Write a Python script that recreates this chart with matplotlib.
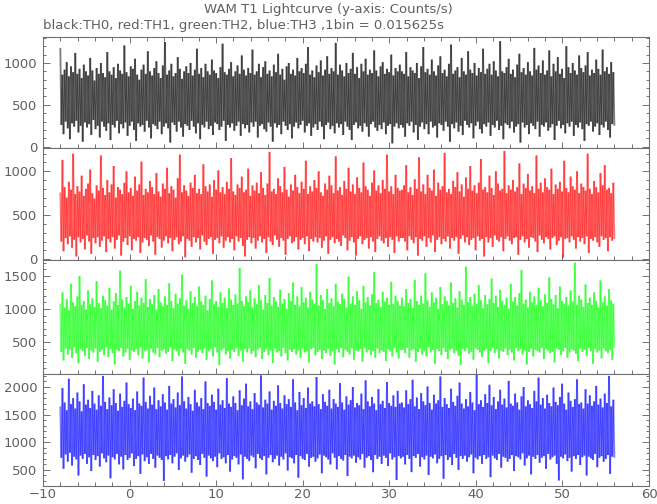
import numpy as np
import matplotlib
matplotlib.use("Agg")
import matplotlib.pyplot as plt
from matplotlib.ticker import MultipleLocator
from matplotlib.collections import LineCollection

# time range covered by the lightcurve (s)
t_start, t_end = -8.0, 56.0

# per-column upper / lower envelope of each channel (counts/s)
th0_hi = [1180, 860, 920, 1010, 840, 960, 890, 1120, 870, 930,
          820, 980, 900, 850, 1060, 910, 790, 940, 870, 1000,
          880, 830, 1130, 900, 860, 950, 820, 990, 910, 870,
          1210, 890, 840, 960, 930, 1050, 860, 800, 920, 980,
          870, 1140, 900, 850, 940, 1020, 880, 820, 970, 1250,
          860, 910, 990, 840, 880, 1070, 930, 810, 900, 960,
          880, 1000, 850, 920, 1170, 870, 940, 830, 990, 900,
          860, 1040, 910, 880, 820, 950, 1230, 890, 860, 930,
          1010, 840, 900, 970, 870, 1090, 920, 850, 940, 880,
          1160, 860, 900, 990, 830, 950, 1020, 870, 910, 840,
          980, 890, 1110, 860, 930, 800, 960, 1000, 870, 920,
          850, 1060, 900, 940, 880, 990, 1190, 860, 910, 830,
          970, 890, 1030, 850, 920, 1080, 870, 940, 900, 1240,
          860, 980, 910, 840, 1000, 880, 930, 1120, 870, 950,
          820, 990, 900, 1050, 860, 920, 880, 1150, 910, 840,
          960, 1010, 870, 930, 890, 1100, 850, 940, 900, 980,
          900, 870, 1130, 840, 950, 910, 880, 1000, 820, 960,
          1190, 890, 930, 860, 1040, 900, 850, 970, 1080, 880,
          920, 840, 990, 1220, 870, 910, 950, 830, 1060, 900,
          860, 1140, 920, 880, 1000, 850, 940, 890, 1170, 870,
          930, 990, 860, 1020, 910, 840, 1260, 900, 880, 950,
          1050, 870, 920, 830, 980, 1110, 890, 940, 860, 1010,
          900, 850, 1180, 920, 970, 880, 1030, 860, 910, 1150,
          840, 990, 900, 1070, 870, 930, 820, 1200, 950, 880,
          1000, 910, 860, 1090, 940, 890, 970, 1130, 850, 920,
          880, 1040, 930, 860, 1160, 900, 950, 870, 1010, 890]
th0_lo = [260, 150, 300, 220, 90, 280, 240, 310, 170, 250,
          60, 290, 230, 270, 140, 320, 210, 250, 110, 300,
          240, 190, 280, 80, 260, 230, 310, 160, 270, 220,
          290, 130, 250, 300, 200, 70, 280, 240, 260, 180,
          310, 230, 100, 270, 250, 210, 300, 150, 240, 280,
          220, 50, 290, 260, 180, 300, 230, 120, 270, 250,
          200, 310, 240, 160, 280, 90, 260, 230, 300, 210,
          250, 140, 290, 270, 200, 240, 310, 70, 260, 230,
          280, 190, 250, 300, 130, 270, 220, 260, 170, 290,
          240, 300, 110, 250, 270, 210, 180, 290, 240, 60,
          280, 230, 260, 150, 300, 250, 200, 270, 100, 240,
          290, 220, 260, 310, 170, 250, 280, 130, 230, 270,
          200, 300, 240, 90, 260, 290, 210, 250, 160, 280,
          230, 270, 140, 300, 240, 200, 80, 260, 290, 220,
          250, 180, 280, 240, 120, 270, 300, 230, 190, 260,
          210, 290, 150, 250, 270, 40, 240, 280, 220, 260,
          230, 120, 280, 250, 300, 170, 260, 80, 240, 290,
          210, 270, 150, 300, 230, 250, 110, 280, 260, 190,
          300, 240, 60, 270, 220, 290, 180, 250, 140, 310,
          260, 230, 280, 100, 250, 300, 210, 160, 270, 240,
          290, 130, 260, 230, 310, 200, 250, 90, 280, 260,
          220, 300, 170, 240, 270, 50, 290, 230, 260, 150,
          280, 250, 210, 300, 120, 260, 240, 290, 190, 230,
          270, 80, 250, 310, 220, 260, 160, 280, 240, 300,
          130, 260, 230, 290, 210, 70, 270, 250, 300, 180,
          240, 280, 140, 260, 230, 300, 200, 110, 270, 250]

th1_hi = [760, 1130, 820, 700, 880, 790, 1200, 740, 830, 770,
          950, 720, 800, 860, 1020, 750, 690, 840, 780, 1180,
          810, 730, 900, 760, 850, 1060, 700, 820, 790, 740,
          870, 1000, 760, 810, 720, 940, 780, 850, 1110, 730,
          800, 760, 890, 820, 740, 980, 770, 710, 860, 800,
          1040, 750, 830, 790, 700, 920, 1190, 760, 840, 780,
          720, 870, 810, 960, 750, 800, 740, 1080, 830, 770,
          850, 710, 900, 790, 1010, 760, 820, 740, 880, 800,
          1150, 770, 730, 850, 810, 940, 760, 790, 1030, 720,
          840, 780, 870, 750, 990, 810, 730, 860, 1220, 770,
          800, 740, 920, 830, 760, 1050, 790, 710, 850, 780,
          960, 820, 750, 880, 800, 1120, 740, 830, 770, 900,
          810, 1000, 760, 720, 860, 790, 950, 840, 750, 1170,
          780, 820, 730, 890, 800, 1040, 770, 850, 740, 930,
          810, 760, 1100, 830, 790, 720, 870, 1010, 780, 840,
          750, 900, 800, 1190, 770, 830, 740, 960, 810, 780,
          790, 840, 1070, 760, 820, 730, 910, 800, 1160, 770,
          850, 740, 960, 810, 780, 1020, 720, 870, 790, 830,
          1210, 760, 800, 740, 890, 820, 990, 770, 850, 710,
          930, 800, 1060, 780, 840, 750, 870, 1140, 790, 820,
          760, 950, 810, 730, 1000, 860, 780, 800, 1230, 750,
          840, 790, 900, 770, 820, 1090, 740, 860, 810, 970,
          780, 830, 750, 1180, 800, 870, 760, 920, 820, 790,
          1030, 740, 850, 800, 880, 770, 1120, 810, 760, 940,
          830, 790, 1000, 750, 860, 820, 780, 1200, 800, 740,
          890, 820, 760, 980, 840, 1070, 790, 810, 750, 870]
th1_lo = [200, 90, 240, 170, 260, 130, 220, 30, 250, 190,
          230, 110, 270, 200, 60, 240, 180, 250, 140, 210,
          260, 80, 230, 190, 250, 120, 220, 270, 40, 200,
          240, 160, 260, 100, 230, 210, 250, 70, 190, 240,
          220, 150, 270, 200, 50, 250, 230, 130, 210, 260,
          180, 240, 90, 220, 250, 170, 200, 260, 20, 230,
          210, 140, 250, 190, 240, 110, 270, 200, 160, 230,
          250, 60, 220, 240, 180, 260, 130, 210, 250, 190,
          230, 100, 260, 200, 240, 150, 30, 220, 250, 180,
          240, 120, 210, 260, 190, 230, 70, 250, 200, 160,
          270, 220, 140, 240, 210, 50, 230, 260, 180, 200,
          250, 110, 220, 240, 170, 260, 90, 230, 200, 250,
          190, 240, 130, 210, 260, 60, 220, 250, 180, 230,
          200, 150, 270, 240, 100, 210, 250, 190, 40, 230,
          260, 170, 220, 240, 120, 250, 200, 80, 230, 260,
          210, 180, 240, 140, 250, 220, 70, 260, 200, 240,
          240, 200, 100, 260, 220, 180, 250, 40, 230, 210,
          260, 140, 240, 190, 270, 80, 220, 250, 170, 230,
          200, 260, 120, 240, 210, 250, 60, 230, 270, 190,
          250, 160, 220, 240, 100, 260, 210, 230, 30, 250,
          190, 240, 140, 270, 220, 200, 250, 90, 230, 260,
          210, 170, 240, 250, 50, 220, 260, 190, 230, 130,
          250, 240, 200, 80, 270, 220, 180, 250, 230, 110,
          240, 260, 160, 210, 250, 20, 230, 240, 190, 260,
          220, 120, 250, 200, 240, 170, 260, 70, 230, 210,
          250, 190, 140, 260, 220, 240, 90, 250, 210, 230]

th2_hi = [1080, 1250, 1020, 1150, 980, 1380, 1100, 1040, 1190, 1500,
          1060, 1120, 990, 1280, 1070, 1160, 1030, 1420, 1090, 1010,
          1200, 1130, 1050, 1320, 990, 1110, 1240, 1060, 1580, 1140,
          1020, 1180, 1080, 1350, 1000, 1120, 1260, 1050, 1170, 1090,
          1450, 1030, 1150, 1070, 1210, 990, 1300, 1100, 1040, 1190,
          1060, 1390, 1120, 1010, 1230, 1080, 1160, 1520, 1050, 1130,
          1000, 1270, 1090, 1180, 1040, 1340, 1110, 1060, 1200, 980,
          1150, 1430, 1070, 1120, 1030, 1250, 1090, 1170, 1010, 1310,
          1140, 1060, 1220, 1080, 1620, 1120, 1040, 1190, 1100, 1280,
          1020, 1160, 1070, 1360, 1130, 990, 1210, 1090, 1470, 1050,
          1180, 1110, 1030, 1290, 1080, 1150, 1000, 1240, 1120, 1400,
          1060, 1190, 1040, 1330, 1100, 1170, 1020, 1260, 1140, 1080,
          1680, 1050, 1210, 1130, 1000, 1300, 1090, 1160, 1040, 1380,
          1110, 1070, 1230, 1150, 1020, 1490, 1080, 1190, 1060, 1270,
          1130, 1000, 1350, 1100, 1180, 1050, 1220, 1560, 1090, 1140,
          1030, 1260, 1110, 1170, 1060, 1410, 1080, 1200, 1120, 1050,
          1170, 1040, 1300, 1090, 1150, 1010, 1440, 1120, 1060, 1200,
          1080, 1540, 1130, 1030, 1250, 1100, 1170, 1000, 1330, 1070,
          1190, 1120, 1050, 1400, 1090, 1160, 1020, 1270, 1140, 1060,
          1640, 1100, 1180, 1040, 1230, 1080, 1360, 1130, 1010, 1210,
          1070, 1150, 1460, 1090, 1200, 1030, 1290, 1120, 1060, 1170,
          1000, 1380, 1110, 1180, 1050, 1240, 1590, 1080, 1140, 1020,
          1260, 1100, 1190, 1060, 1320, 1130, 1040, 1220, 1090, 1480,
          1150, 1070, 1210, 1010, 1340, 1120, 1080, 1180, 1050, 1280,
          1110, 1700, 1060, 1200, 1140, 1030, 1370, 1090, 1170, 1060,
          1250, 1120, 1020, 1430, 1100, 1190, 1050, 1300, 1130, 1080]
th2_lo = [350, 220, 400, 310, 380, 260, 420, 330, 180, 390,
          360, 290, 410, 240, 370, 340, 400, 200, 350, 380,
          300, 420, 270, 390, 330, 160, 380, 360, 410, 280,
          340, 400, 230, 370, 350, 390, 300, 420, 250, 360,
          380, 190, 400, 340, 310, 410, 270, 370, 390, 320,
          350, 420, 210, 380, 360, 290, 400, 340, 170, 390,
          370, 310, 410, 260, 350, 380, 330, 400, 230, 360,
          390, 280, 420, 340, 150, 370, 400, 310, 360, 250,
          380, 350, 410, 290, 370, 200, 390, 340, 400, 320,
          360, 270, 380, 410, 240, 350, 390, 300, 370, 180,
          400, 340, 360, 280, 410, 330, 220, 380, 350, 390,
          310, 370, 260, 400, 340, 360, 190, 390, 410, 300,
          350, 380, 240, 370, 330, 400, 290, 360, 160, 390,
          340, 410, 270, 380, 350, 310, 400, 230, 370, 360,
          390, 200, 410, 340, 380, 300, 360, 260, 400, 330,
          370, 350, 210, 390, 360, 280, 410, 340, 250, 380,
          380, 330, 410, 260, 370, 390, 200, 350, 400, 310,
          360, 280, 420, 340, 380, 170, 390, 360, 300, 410,
          350, 240, 380, 400, 330, 370, 290, 150, 390, 360,
          410, 320, 350, 230, 400, 380, 340, 270, 370, 390,
          180, 360, 410, 330, 390, 250, 370, 350, 400, 300,
          380, 340, 220, 410, 360, 390, 310, 370, 160, 350,
          400, 280, 380, 360, 340, 410, 240, 390, 370, 330,
          350, 190, 400, 380, 300, 360, 410, 260, 340, 390,
          370, 320, 210, 400, 350, 380, 290, 410, 360, 170,
          390, 340, 370, 250, 400, 360, 330, 380, 230, 410]

th3_hi = [1650, 1980, 1720, 1580, 2150, 1690, 1800, 1610, 1900, 1740,
          1560, 2050, 1680, 1770, 1620, 1930, 1700, 1590, 1850, 1660,
          2200, 1730, 1600, 1810, 1670, 1960, 1710, 1570, 1880, 1640,
          1750, 2080, 1690, 1620, 1790, 1580, 1920, 1700, 1660, 2170,
          1730, 1610, 1840, 1680, 1990, 1600, 1760, 1650, 1870, 1720,
          1590, 2020, 1700, 1780, 1630, 1900, 1670, 2190, 1740, 1610,
          1820, 1690, 1570, 1950, 1720, 1650, 1800, 1600, 2100, 1710,
          1660, 1860, 1730, 1590, 1970, 1680, 1760, 1620, 2160, 1700,
          1640, 1830, 1710, 1580, 1940, 1670, 1790, 2060, 1650, 1740,
          1600, 1890, 1720, 1680, 2210, 1630, 1770, 1700, 1920, 1590,
          1750, 1660, 2030, 1710, 1610, 1850, 1690, 1780, 1640, 2140,
          1720, 1580, 1910, 1670, 1800, 1620, 1990, 1700, 1740, 1650,
          2180, 1690, 1600, 1870, 1730, 1660, 1950, 1610, 1780, 1700,
          1640, 2070, 1720, 1590, 1830, 1680, 1760, 2000, 1630, 1710,
          1670, 1880, 1600, 2120, 1740, 1650, 1820, 1700, 1580, 1960,
          1690, 1750, 1620, 2090, 1710, 1660, 1850, 1640, 1930, 1700,
          1720, 1630, 1940, 1690, 1780, 2130, 1650, 1810, 1600, 1890,
          1740, 1670, 2010, 1710, 1590, 1860, 1700, 1760, 2190, 1640,
          1800, 1690, 1620, 1970, 1730, 1660, 1840, 2080, 1700, 1610,
          1780, 1650, 1910, 1720, 1580, 2230, 1690, 1760, 1640, 1870,
          1710, 2040, 1670, 1820, 1600, 1740, 1950, 1680, 1790, 1630,
          2110, 1700, 1660, 1880, 1720, 1590, 1830, 2000, 1650, 1760,
          1690, 1620, 1930, 1740, 2170, 1680, 1800, 1610, 1860, 1710,
          1650, 1990, 1730, 1670, 1820, 2060, 1700, 1590, 1900, 1750,
          1640, 1780, 2140, 1690, 1720, 1610, 1960, 1700, 1850, 1660,
          1740, 2020, 1680, 1790, 1630, 1880, 1710, 2200, 1650, 1770]
th3_lo = [720, 520, 780, 650, 810, 580, 740, 690, 400, 760,
          700, 790, 610, 730, 480, 770, 680, 750, 560, 800,
          710, 640, 760, 350, 730, 690, 790, 600, 740, 510,
          770, 680, 720, 800, 570, 700, 750, 430, 780, 660,
          730, 610, 790, 700, 540, 760, 720, 680, 300, 750,
          690, 770, 620, 740, 800, 500, 710, 760, 650, 730,
          780, 450, 700, 750, 680, 590, 790, 720, 380, 760,
          710, 660, 740, 550, 800, 700, 730, 620, 770, 470,
          690, 750, 720, 600, 780, 330, 740, 700, 660, 760,
          730, 530, 790, 710, 680, 750, 420, 720, 770, 640,
          700, 760, 580, 740, 690, 800, 490, 730, 710, 620,
          770, 360, 750, 700, 680, 790, 560, 720, 740, 650,
          710, 780, 440, 760, 730, 690, 600, 800, 720, 510,
          750, 700, 670, 770, 390, 740, 710, 760, 630, 730,
          690, 790, 540, 720, 750, 680, 460, 770, 700, 740,
          610, 760, 720, 570, 800, 690, 730, 320, 750, 710,
          740, 600, 770, 700, 460, 750, 720, 790, 560, 730,
          690, 760, 410, 740, 710, 780, 620, 700, 750, 340,
          770, 680, 730, 590, 790, 720, 500, 750, 700, 760,
          650, 730, 780, 440, 720, 690, 750, 610, 770, 700,
          730, 370, 760, 710, 680, 790, 540, 740, 720, 650,
          700, 770, 480, 750, 730, 690, 800, 580, 710, 760,
          420, 740, 700, 770, 630, 720, 750, 520, 790, 690,
          730, 760, 610, 310, 740, 710, 780, 660, 720, 470,
          750, 700, 770, 590, 730, 760, 400, 740, 710, 680,
          790, 550, 720, 750, 650, 700, 770, 430, 740, 720]

colors = ["black", "red", "#00ff00", "blue"]
ylims = [(-15, 1310), (-10, 1265), (15, 1740), (210, 2235)]
# panel top/bottom in pixels
panel_px = [(37, 148), (148, 260), (260, 374), (374, 486)]

W, H = 657, 504
frame = "#707070"
txt = "#606060"

fig = plt.figure(figsize=(W / 100, H / 100), dpi=100)
fig.text(0.5, 1 - 9 / H, "WAM T1 Lightcurve (y-axis: Counts/s)",
         ha="center", va="center", fontsize=9.5, color=txt)
fig.text(43 / W, 1 - 25 / H, "black:TH0, red:TH1, green:TH2, blue:TH3 ,1bin = 0.015625s",
         ha="left", va="center", fontsize=9.5, color=txt)

data = [(th0_hi, th0_lo), (th1_hi, th1_lo), (th2_hi, th2_lo), (th3_hi, th3_lo)]
left, right = 43, 649
for i, ((hi, lo), c, yl, (top, bot)) in enumerate(zip(data, colors, ylims, panel_px)):
    ax = fig.add_axes([left / W, 1 - bot / H, (right - left) / W, (bot - top) / H])
    y = np.column_stack([hi, lo]).ravel()
    t = np.linspace(t_start, t_end, len(y))
    pts = np.column_stack([t, y])
    # each step of the curve as its own segment so overlaps darken the core
    segs = np.stack([pts[:-1], pts[1:]], axis=1)
    ax.add_collection(LineCollection(segs, colors=c, linewidths=1.35, alpha=0.5))
    ax.set_xlim(-10, 60)
    ax.set_ylim(*yl)
    ax.xaxis.set_major_locator(MultipleLocator(10))
    ax.xaxis.set_minor_locator(MultipleLocator(2))
    ax.yaxis.set_major_locator(MultipleLocator(500))
    ax.yaxis.set_minor_locator(MultipleLocator(100))
    for s in ax.spines.values():
        s.set_color(frame)
        s.set_linewidth(0.8)
    ax.tick_params(which="both", direction="in", colors=frame, labelcolor=txt,
                   labelsize=9.5, left=True, right=True, top=(i == 0), bottom=True,
                   width=0.7)
    ax.tick_params(axis="y", which="major", length=5)
    ax.tick_params(axis="y", which="minor", length=2.5)
    ax.tick_params(axis="x", which="major", length=4)
    ax.tick_params(axis="x", which="minor", length=3)
    if i < 3:
        ax.tick_params(axis="x", labelbottom=False)
    else:
        ax.tick_params(axis="x", pad=1.5)
    ax.tick_params(axis="y", pad=4)

fig.savefig("out.png", dpi=100)
